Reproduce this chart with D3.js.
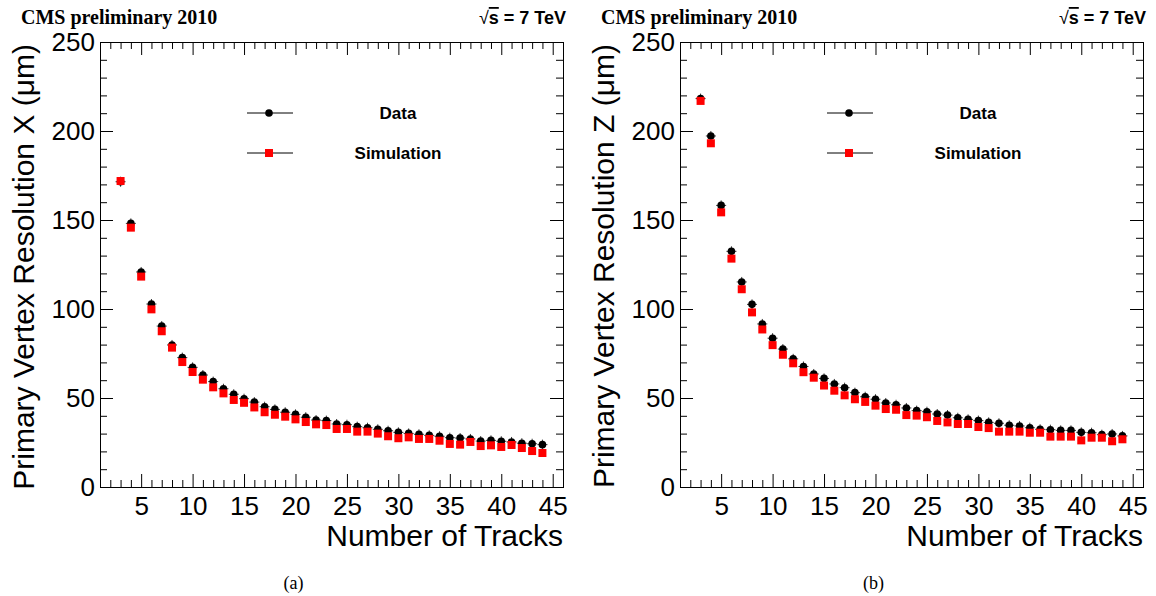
<!DOCTYPE html>
<html>
<head>
<meta charset="utf-8">
<script src="https://cdn.jsdelivr.net/npm/d3@7"></script>
<style>
  html, body { margin: 0; padding: 0; background: #fff; }
  svg { display: block; }
</style>
</head>
<body>
<svg id="chart" width="1156" height="596"></svg>
<script>
// ---- data ----
const tracks = [3,4,5,6,7,8,9,10,11,12,13,14,15,16,17,18,19,20,21,22,23,24,25,26,27,28,29,30,31,32,33,34,35,36,37,38,39,40,41,42,43,44];

const dataX = [171.5,148.1,120.8,102.8,90.4,79.8,72.7,67.2,62.9,59.2,55.2,52.1,49.6,47.7,45.1,43.6,42.0,40.8,39.2,37.6,37.3,35.4,35.0,33.9,33.3,32.4,31.6,30.7,30.1,29.6,29.0,28.5,27.7,27.5,27.0,25.8,26.2,25.7,25.3,24.6,24.3,23.8];
const simX  = [171.9,145.7,118.2,99.8,87.5,78.3,70.2,64.6,60.3,56.0,52.6,48.9,47.3,44.7,42.0,40.6,39.5,38.0,36.5,35.2,34.8,32.6,32.6,31.1,31.1,30.0,28.5,27.4,27.9,27.0,27.0,26.0,24.2,23.8,25.3,23.0,23.4,22.5,23.6,21.9,20.2,19.1];

const dataZ = [218.2,197.2,158.2,132.4,115.2,102.6,91.6,83.6,77.5,72.0,67.7,63.5,61.0,57.9,55.8,53.0,50.7,49.3,47.2,46.2,44.4,42.9,42.3,41.0,40.4,38.9,38.0,37.3,36.3,35.8,34.7,34.3,33.3,32.4,32.2,31.8,31.8,30.7,30.5,29.4,29.8,28.7];
const simZ  = [216.9,193.1,154.3,128.3,111.1,98.1,88.5,79.7,74.3,69.5,64.5,61.4,57.0,54.1,51.5,49.3,47.8,45.7,43.8,43.4,40.4,40.1,39.2,37.1,36.3,35.4,35.4,33.7,33.1,31.1,31.1,31.1,30.5,30.5,28.3,28.3,28.3,26.2,27.7,27.7,25.7,26.8];

const xDomain = [1, 46];
const yDomain = [0, 250];
const xMajorTicks = [5,10,15,20,25,30,35,40,45];
const yMajorTicks = [0,50,100,150,200,250];
const seriesNames = ["Data", "Simulation"];
const xTitle = "Number of Tracks";
const yTitles = ["Primary Vertex Resolution X (\u03BCm)", "Primary Vertex Resolution Z (\u03BCm)"];
const captions = ["(a)", "(b)"];
const headerLeft = "CMS preliminary 2010";

// ---- drawing ----
const svg = d3.select("#chart");
const SANS = "'Liberation Sans', Arial, Helvetica, sans-serif";
const SERIF = "'Liberation Serif', 'Times New Roman', serif";

function drawPanel(ox, dataVals, simVals, yTitle, caption) {
  const left = ox, right = ox + 463, top = 42, bottom = 487;
  const x = d3.scaleLinear().domain(xDomain).range([left, right]);
  const y = d3.scaleLinear().domain(yDomain).range([bottom, top]);
  const g = svg.append("g");

  const xMinor = d3.range(xDomain[0] + 1, xDomain[1]).filter(v => !xMajorTicks.includes(v));
  const yMinor = d3.range(yDomain[0] + 10, yDomain[1], 10).filter(v => !yMajorTicks.includes(v));

  function styleAxis(sel) {
    sel.select(".domain").remove();
    sel.selectAll("line").attr("stroke", "#000").attr("stroke-width", 1);
    sel.selectAll("text").attr("font-family", SANS).attr("font-size", 26).attr("fill", "#000");
  }

  // bottom
  g.append("g").attr("transform", `translate(0,${bottom})`)
    .call(d3.axisBottom(x).tickValues(xMajorTicks).tickSize(-13).tickPadding(9.5).tickFormat(d3.format("d")))
    .call(styleAxis);
  g.append("g").attr("transform", `translate(0,${bottom})`)
    .call(d3.axisBottom(x).tickValues(xMinor).tickSize(-7).tickFormat(""))
    .call(styleAxis);
  // top
  g.append("g").attr("transform", `translate(0,${top})`)
    .call(d3.axisTop(x).tickValues(xMajorTicks).tickSize(-13).tickFormat(""))
    .call(styleAxis);
  g.append("g").attr("transform", `translate(0,${top})`)
    .call(d3.axisTop(x).tickValues(xMinor).tickSize(-7).tickFormat(""))
    .call(styleAxis);
  // left
  g.append("g").attr("transform", `translate(${left},0)`)
    .call(d3.axisLeft(y).tickValues(yMajorTicks).tickSize(-13).tickPadding(5).tickFormat(d3.format("d")))
    .call(styleAxis);
  g.append("g").attr("transform", `translate(${left},0)`)
    .call(d3.axisLeft(y).tickValues(yMinor).tickSize(-7).tickFormat(""))
    .call(styleAxis);
  // right
  g.append("g").attr("transform", `translate(${right},0)`)
    .call(d3.axisRight(y).tickValues(yMajorTicks).tickSize(-13).tickFormat(""))
    .call(styleAxis);
  g.append("g").attr("transform", `translate(${right},0)`)
    .call(d3.axisRight(y).tickValues(yMinor).tickSize(-7).tickFormat(""))
    .call(styleAxis);

  // frame
  g.append("rect").attr("x", left + 0.5).attr("y", top + 0.5)
    .attr("width", right - left).attr("height", bottom - top)
    .attr("fill", "none").attr("stroke", "#000").attr("stroke-width", 1);

  // axis titles
  g.append("text")
    .attr("transform", `translate(${ox - 66},${top + 2}) rotate(-90)`)
    .attr("text-anchor", "end")
    .attr("font-family", SANS).attr("font-size", 30).attr("fill", "#000")
    .text(yTitle);
  g.append("text")
    .attr("x", right).attr("y", 546)
    .attr("text-anchor", "end")
    .attr("font-family", SANS).attr("font-size", 30).attr("fill", "#000")
    .text(xTitle);

  // header
  g.append("text").attr("x", ox - 79).attr("y", 24)
    .attr("font-family", SERIF).attr("font-weight", "bold").attr("font-size", 20).attr("fill", "#000")
    .text(headerLeft);
  const hr = g.append("text").attr("x", right + 3).attr("y", 24)
    .attr("text-anchor", "end")
    .attr("font-family", SANS).attr("font-weight", "bold").attr("font-size", 18).attr("fill", "#000");
  hr.append("tspan").attr("font-weight", "normal").text("\u221A");
  hr.append("tspan").attr("text-decoration", "overline").text("s");
  hr.append("tspan").text(" = 7 TeV");

  // caption
  g.append("text").attr("x", (left + right) / 2 - 38).attr("y", 589)
    .attr("text-anchor", "middle")
    .attr("font-family", SERIF).attr("font-size", 18).attr("fill", "#000")
    .text(caption);

  // data points (black circles with small error marks)
  const pts = tracks.map((t, i) => ({ t, d: dataVals[i], s: simVals[i] }));
  const dg = g.append("g");
  dg.selectAll("line.eh").data(pts).join("line")
    .attr("x1", p => x(p.t) - 5).attr("x2", p => x(p.t) + 5)
    .attr("y1", p => y(p.d)).attr("y2", p => y(p.d))
    .attr("stroke", "#000").attr("stroke-width", 0.8);
  dg.selectAll("line.ev").data(pts).join("line")
    .attr("x1", p => x(p.t)).attr("x2", p => x(p.t))
    .attr("y1", p => y(p.d) - 5).attr("y2", p => y(p.d) + 5)
    .attr("stroke", "#000").attr("stroke-width", 0.8);
  dg.selectAll("circle").data(pts).join("circle")
    .attr("cx", p => x(p.t)).attr("cy", p => y(p.d)).attr("r", 3.8)
    .attr("fill", "#000");

  // simulation points (red squares)
  const sq = 8;
  g.append("g").selectAll("rect").data(pts).join("rect")
    .attr("x", p => x(p.t) - sq / 2).attr("y", p => y(p.s) - sq / 2)
    .attr("width", sq).attr("height", sq)
    .attr("fill", "#ff0000");

  // legend
  const lx1 = ox + 147, lx2 = ox + 193, lm = ox + 169, ltx = ox + 298;
  const ly = [113, 153];
  const lg = g.append("g");
  lg.selectAll("line").data(ly).join("line")
    .attr("x1", lx1).attr("x2", lx2).attr("y1", d => d).attr("y2", d => d)
    .attr("stroke", "#000").attr("stroke-width", 1);
  lg.append("circle").attr("cx", lm).attr("cy", ly[0]).attr("r", 3.8).attr("fill", "#000");
  lg.append("rect").attr("x", lm - sq / 2).attr("y", ly[1] - sq / 2).attr("width", sq).attr("height", sq).attr("fill", "#ff0000");
  lg.selectAll("text").data(seriesNames).join("text")
    .attr("x", ltx).attr("y", (d, i) => ly[i] + 6)
    .attr("text-anchor", "middle")
    .attr("font-family", SANS).attr("font-weight", "bold").attr("font-size", 17).attr("fill", "#000")
    .text(d => d);
}

drawPanel(100, dataX, simX, yTitles[0], captions[0]);
drawPanel(680, dataZ, simZ, yTitles[1], captions[1]);
</script>
</body>
</html>
